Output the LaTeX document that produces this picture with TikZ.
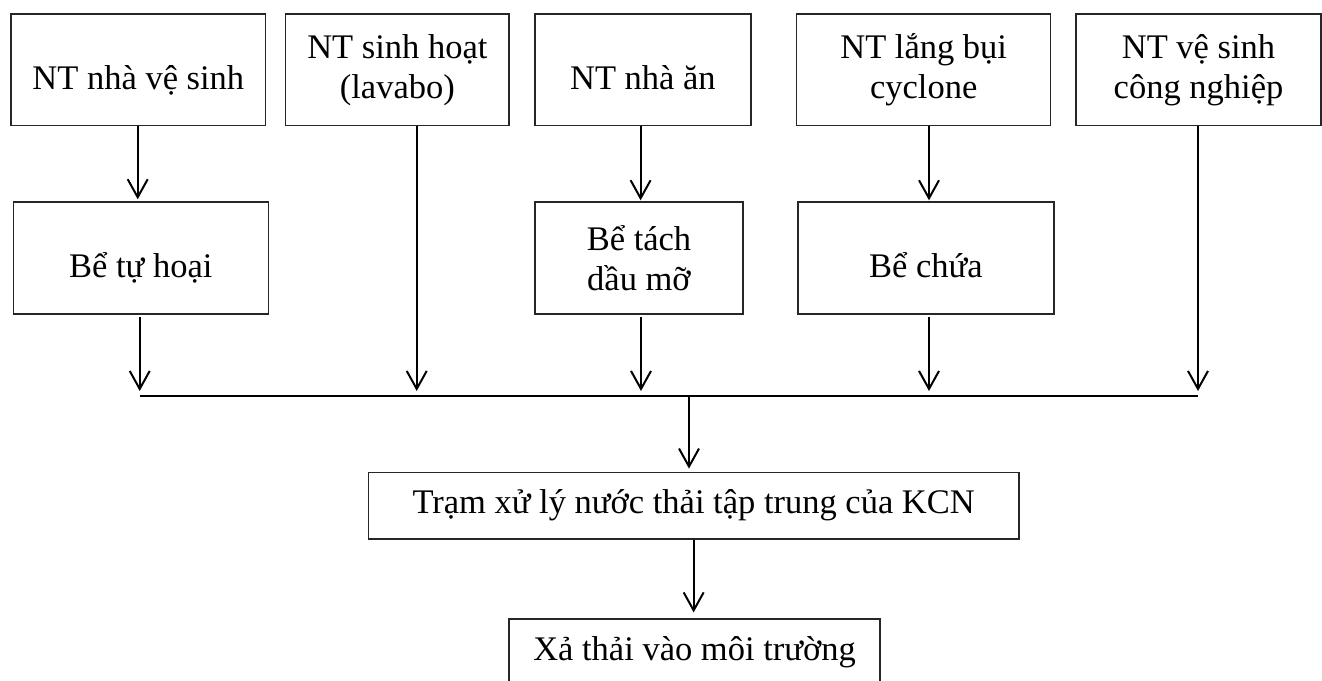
\documentclass[tikz,border=0pt]{standalone}
\usepackage{fontspec}
\setmainfont{Liberation Serif}
\usetikzlibrary{arrows.meta}
\begin{document}
\begin{tikzpicture}[x=1pt,y=-1pt,
  box/.style={draw=black!85, line width=1.4pt, inner sep=0pt,
    font=\fontsize{34.5}{40}\selectfont, align=center},
  topbox/.style={box, minimum height=111.7pt},
  one/.style={text height=38.8pt, text depth=0pt},
  low/.style={box, minimum height=66.7pt, text height=24pt, text depth=7.4pt},
  arr/.style={line width=2pt, -{Straight Barb[length=18pt,width=20pt,line width=2pt]}},
  busline/.style={line width=2pt}]
\useasboundingbox (0,0) rectangle (1322,680);

% top row
\node[topbox,one,minimum width=254.7pt] (b1) at (138.35,69.85) {NT nhà vệ sinh};
\node[topbox,minimum width=223.3pt] (b2) at (397.35,69.85) {NT sinh hoạt\\(lavabo)};
\node[topbox,one,minimum width=215.8pt] (b3) at (642.9,69.85) {NT nhà ăn};
\node[topbox,minimum width=254pt] (b4) at (923.7,69.85) {NT lắng bụi\\cyclone};
\node[topbox,minimum width=245pt] (b5) at (1198.5,69.85) {NT vệ sinh\\công nghiệp};

% second row
\node[topbox,one,minimum width=255pt,minimum height=112pt] (t1) at (140.8,258) {Bể tự hoại};
\node[topbox,minimum width=208pt,minimum height=112pt] (t3) at (639,258) {Bể tách\\dầu mỡ};
\node[topbox,one,minimum width=255.8pt,minimum height=112pt] (t4) at (925.9,258) {Bể chứa};

% bottom
\node[low,minimum width=650.7pt] (tram) at (693.65,505.65) {Trạm xử lý nước thải tập trung của KCN};
\node[low,minimum width=371pt] (xa) at (694.5,652.5) {Xả thải vào môi trường};

% guide coordinates
\coordinate (v1a) at (137.7,0);
\coordinate (v1b) at (139.7,0);
\coordinate (v2) at (416.7,0);
\coordinate (v3a) at (640.6,0);
\coordinate (v3b) at (641,0);
\coordinate (v4) at (929,0);
\coordinate (v5) at (1198,0);
\coordinate (vT) at (689,0);
\coordinate (busL) at (139.7,396);
\coordinate (busR) at (1198.3,396);

% collector
\draw[busline] (busL) -- (busR);

% top to second row
\draw[arr, shorten >=2pt] (v1a |- b1.south) -- (v1a |- t1.north);
\draw[arr, shorten >=1pt] (v3a |- b3.south) -- (v3a |- t3.north);
\draw[arr, shorten >=1pt] (v4 |- b4.south) -- (v4 |- t4.north);

% into collector
\draw[arr, shorten <=2pt, shorten >=5pt] (v1b |- t1.south) -- (v1b |- busL);
\draw[arr, shorten >=5pt] (v2 |- b2.south) -- (v2 |- busL);
\draw[arr, shorten <=2pt, shorten >=5pt] (v3b |- t3.south) -- (v3b |- busL);
\draw[arr, shorten <=2pt, shorten >=5pt] (v4 |- t4.south) -- (v4 |- busL);
\draw[arr, shorten >=5pt] (v5 |- b5.south) -- (v5 |- busL);

% collector to treatment and discharge
\draw[arr, shorten >=3pt] (vT |- busL) -- (vT |- tram.north);
\draw[arr, shorten >=6pt] (tram.south) -- (tram.south |- xa.north);
\end{tikzpicture}
\end{document}
